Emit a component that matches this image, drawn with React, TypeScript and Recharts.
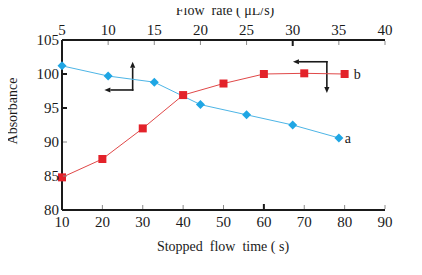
import React from 'react';
import { LineChart, Line, XAxis, YAxis, ReferenceLine } from 'recharts';

// ---- data ----
const stoppedTimes = [10, 20, 30, 40, 50, 60, 70, 80];
const absorbanceB = [84.8, 87.5, 92.0, 96.9, 98.6, 100.0, 100.1, 100.0];
const flowRates = [5, 10, 15, 20, 25, 30, 35];
const absorbanceA = [101.2, 99.7, 98.8, 95.5, 94.0, 92.5, 90.6];
const timeTicks = [10, 20, 30, 40, 50, 60, 70, 80, 90];
const flowTicks = [5, 10, 15, 20, 25, 30, 35, 40];
const absTicks = [80, 85, 90, 95, 100, 105];
// ticks that are printed bolder in the reference
const boldTimeTicks = [60];
const boldFlowTicks = [30];
const boldAbsTicks = [95, 100];

// annotation arrows (in bottom-axis / absorbance data units)
const arrowSegments = [
  [{ x: 27.5, y: 97.65 }, { x: 27.5, y: 101.8 }],
  [{ x: 27.5, y: 97.65 }, { x: 20.5, y: 97.65 }],
  [{ x: 75.6, y: 101.8 }, { x: 67.2, y: 101.8 }],
  [{ x: 75.6, y: 101.8 }, { x: 75.6, y: 97.2 }],
];

const dataB = stoppedTimes.map((t, i) => ({ t, b: absorbanceB[i] }));
const dataA = flowRates.map((f, i) => ({ f, a: absorbanceA[i] }));

const FONT = '"Liberation Serif", "DejaVu Serif", serif';
const INK = '#1a1a1a';
const THIN = '#8a8a8a';
const RED = '#e3222a';
const RED_LINE = '#e04848';
const BLUE = '#1fa6e4';
const BLUE_LINE = '#4db5e6';

const tickStyle = (bold: boolean) =>
  bold ? { stroke: INK, strokeWidth: 2 } : { stroke: THIN, strokeWidth: 1 };

const BottomTick = (p: any) => {
  const { x, y, payload } = p;
  const bold = boldTimeTicks.includes(payload.value);
  return (
    <g>
      {payload.value !== 10 && (
        <line x1={x} y1={y - 1} x2={x} y2={y - (bold ? 6 : 5)} {...tickStyle(bold)} />
      )}
      <text x={x} y={y + 17} textAnchor="middle" fontSize={15} fontFamily={FONT} fill={INK}>
        {payload.value}
      </text>
    </g>
  );
};

const TopTick = (p: any) => {
  const { x, y, payload } = p;
  const bold = boldFlowTicks.includes(payload.value);
  return (
    <g>
      {payload.value !== 5 && (
        <line x1={x} y1={y + 1} x2={x} y2={y + (bold ? 6 : 5)} {...tickStyle(bold)} />
      )}
      <text x={x} y={y - 5} textAnchor="middle" fontSize={15} fontFamily={FONT} fill={INK}>
        {payload.value}
      </text>
    </g>
  );
};

const LeftTick = (p: any) => {
  const { x, y, payload } = p;
  const bold = boldAbsTicks.includes(payload.value);
  return (
    <g>
      {payload.value !== 80 && payload.value !== 105 && (
        <line x1={x + 1} y1={y} x2={x + 5} y2={y} {...tickStyle(bold)} />
      )}
      <text x={x - 3} y={y + 5} textAnchor="end" fontSize={15} fontFamily={FONT} fill={INK}>
        {payload.value}
      </text>
    </g>
  );
};

const SquareDot = (p: any) => {
  const { cx, cy, index } = p;
  if (cx == null || cy == null) return <g key={`s${index}`} />;
  return <rect key={`s${index}`} x={cx - 4} y={cy - 4} width={8} height={8} fill={RED} />;
};

const DiamondDot = (p: any) => {
  const { cx, cy, index } = p;
  if (cx == null || cy == null) return <g key={`d${index}`} />;
  const r = 4.5;
  return (
    <polygon
      key={`d${index}`}
      points={`${cx},${cy - r} ${cx + r},${cy} ${cx},${cy + r} ${cx - r},${cy}`}
      fill={BLUE}
    />
  );
};

const endLabel = (text: string, lastIndex: number, dx: number) => (p: any) => {
  const { x, y, index } = p;
  if (index !== lastIndex) return <g key={`l${text}${index}`} />;
  return (
    <text key={`l${text}${index}`} x={x + dx} y={y + 5} fontSize={14} fontFamily={FONT} fill={INK}>
      {text}
    </text>
  );
};

const ArrowShape = (props: any) => {
  const { x1, y1, x2, y2 } = props;
  const dx = x2 - x1;
  const dy = y2 - y1;
  const len = Math.hypot(dx, dy) || 1;
  const ux = dx / len;
  const uy = dy / len;
  const L = 6;
  const W = 2.6;
  const bx = x2 - ux * L;
  const by = y2 - uy * L;
  const pts = `${x2},${y2} ${bx - uy * W},${by + ux * W} ${bx + uy * W},${by - ux * W}`;
  return (
    <g>
      <line x1={x1 - ux * 0.8} y1={y1 - uy * 0.8} x2={bx} y2={by} stroke={INK} strokeWidth={1.6} />
      <polygon points={pts} fill={INK} />
    </g>
  );
};

const TopTitle = () => (
  <text
    x={225}
    y={15}
    textAnchor="middle"
    fontSize={14}
    fontFamily={FONT}
    fill={INK}
    style={{ whiteSpace: 'pre' }}
  >
    {'Flow  rate ( μL/s)'}
  </text>
);

const BottomTitle = () => (
  <text
    x={223}
    y={251}
    textAnchor="middle"
    fontSize={14}
    fontFamily={FONT}
    fill={INK}
    style={{ whiteSpace: 'pre' }}
  >
    {'Stopped  flow  time ( s)'}
  </text>
);

const LeftTitle = () => {
  const x = 17;
  const y = 111;
  return (
    <text
      x={x}
      y={y}
      transform={`rotate(-90 ${x} ${y})`}
      textAnchor="middle"
      fontSize={14}
      fontFamily={FONT}
      fill={INK}
    >
      Absorbance
    </text>
  );
};

export default function App() {
  return (
    <div style={{ width: 422, height: 275, margin: -8 }}>
      <LineChart
        width={422}
        height={275}
        margin={{ top: 0, right: 37, bottom: 0, left: 0 }}
        style={{ fontFamily: FONT }}
      >
        <XAxis
          xAxisId="bottom"
          type="number"
          dataKey="t"
          orientation="bottom"
          domain={[10, 90]}
          ticks={timeTicks}
          interval={0}
          height={65}
          tickSize={0}
          tickMargin={0}
          tickLine={false}
          axisLine={{ stroke: INK, strokeWidth: 2 }}
          tick={BottomTick}
          label={BottomTitle}
        />
        <XAxis
          xAxisId="top"
          type="number"
          dataKey="f"
          orientation="top"
          domain={[5, 40]}
          ticks={flowTicks}
          interval={0}
          height={40}
          tickSize={0}
          tickMargin={0}
          tickLine={false}
          axisLine={{ stroke: INK, strokeWidth: 2 }}
          tick={TopTick}
          label={TopTitle}
        />
        <YAxis
          type="number"
          domain={[80, 105]}
          ticks={absTicks}
          interval={0}
          width={62}
          tickSize={0}
          tickMargin={0}
          tickLine={false}
          axisLine={{ stroke: INK, strokeWidth: 2 }}
          tick={LeftTick}
          label={LeftTitle}
        />
        {arrowSegments.map((seg, i) => (
          <ReferenceLine
            key={`arr${i}`}
            xAxisId="bottom"
            segment={seg}
            ifOverflow="visible"
            shape={ArrowShape}
          />
        ))}
        <Line
          data={dataA}
          xAxisId="top"
          dataKey="a"
          stroke={BLUE_LINE}
          strokeWidth={1}
          dot={DiamondDot}
          activeDot={false}
          isAnimationActive={false}
          label={endLabel('a', dataA.length - 1, 6)}
        />
        <Line
          data={dataB}
          xAxisId="bottom"
          dataKey="b"
          stroke={RED_LINE}
          strokeWidth={1}
          dot={SquareDot}
          activeDot={false}
          isAnimationActive={false}
          label={endLabel('b', dataB.length - 1, 9)}
        />
      </LineChart>
    </div>
  );
}
